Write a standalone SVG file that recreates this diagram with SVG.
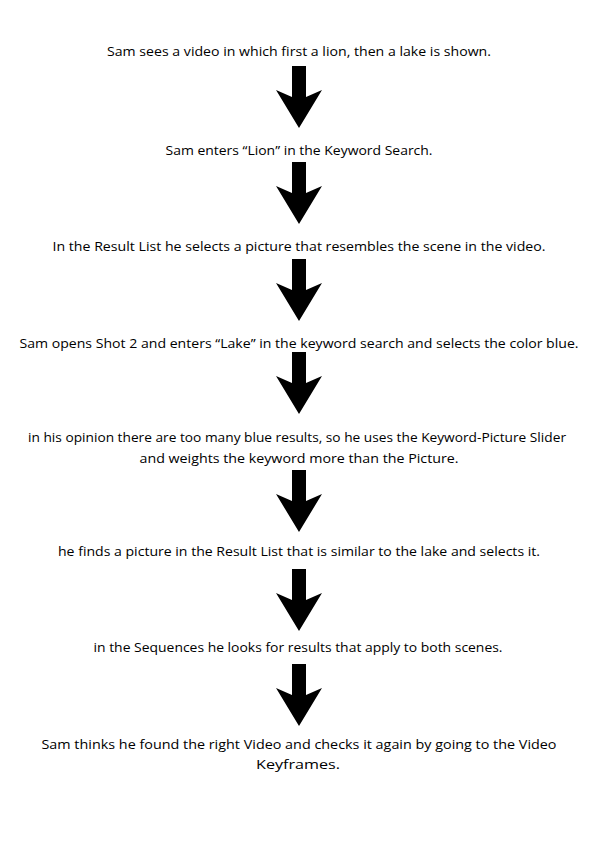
<svg xmlns="http://www.w3.org/2000/svg" width="596" height="842" viewBox="0 0 596 842">
<style>
text{font-family:"Open Sans","Liberation Sans",Arial,sans-serif;font-size:13px;fill:#000;text-anchor:middle}
.arrow{fill:#000}
</style>
<defs>
<polygon id="arr" points="292,0 306,0 306,31 322,24 299,62 276,24 292,31"/>
</defs>
<rect width="596" height="842" fill="#fff"/>
<g id="n1"><text x="299" y="56" textLength="384" lengthAdjust="spacingAndGlyphs">Sam sees a video in which first a lion, then a lake is shown.</text></g>
<g id="n2"><text x="299" y="155" textLength="267" lengthAdjust="spacingAndGlyphs">Sam enters “Lion” in the Keyword Search.</text></g>
<g id="n3"><text x="299" y="251" textLength="493" lengthAdjust="spacingAndGlyphs">In the Result List he selects a picture that resembles the scene in the video.</text></g>
<g id="n4"><text x="299" y="348" textLength="559" lengthAdjust="spacingAndGlyphs">Sam opens Shot 2 and enters “Lake” in the keyword search and selects the color blue.</text></g>
<g id="n5"><text x="297" y="442" textLength="538" lengthAdjust="spacingAndGlyphs">in his opinion there are too many blue results, so he uses the Keyword-Picture Slider</text><text x="299" y="463" textLength="319" lengthAdjust="spacingAndGlyphs">and weights the keyword more than the Picture.</text></g>
<g id="n6"><text x="299" y="556" textLength="482" lengthAdjust="spacingAndGlyphs">he finds a picture in the Result List that is similar to the lake and selects it.</text></g>
<g id="n7"><text x="298" y="652" textLength="409" lengthAdjust="spacingAndGlyphs">in the Sequences he looks for results that apply to both scenes.</text></g>
<g id="n8"><text x="299" y="749" textLength="515" lengthAdjust="spacingAndGlyphs">Sam thinks he found the right Video and checks it again by going to the Video</text><text x="298" y="769" textLength="84" lengthAdjust="spacingAndGlyphs">Keyframes.</text></g>
<g id="connectors" class="arrow">
<use href="#arr" y="66"/>
<use href="#arr" y="162"/>
<use href="#arr" y="259"/>
<use href="#arr" y="352"/>
<use href="#arr" y="470"/>
<use href="#arr" y="569"/>
<use href="#arr" y="664"/>
</g>
</svg>
